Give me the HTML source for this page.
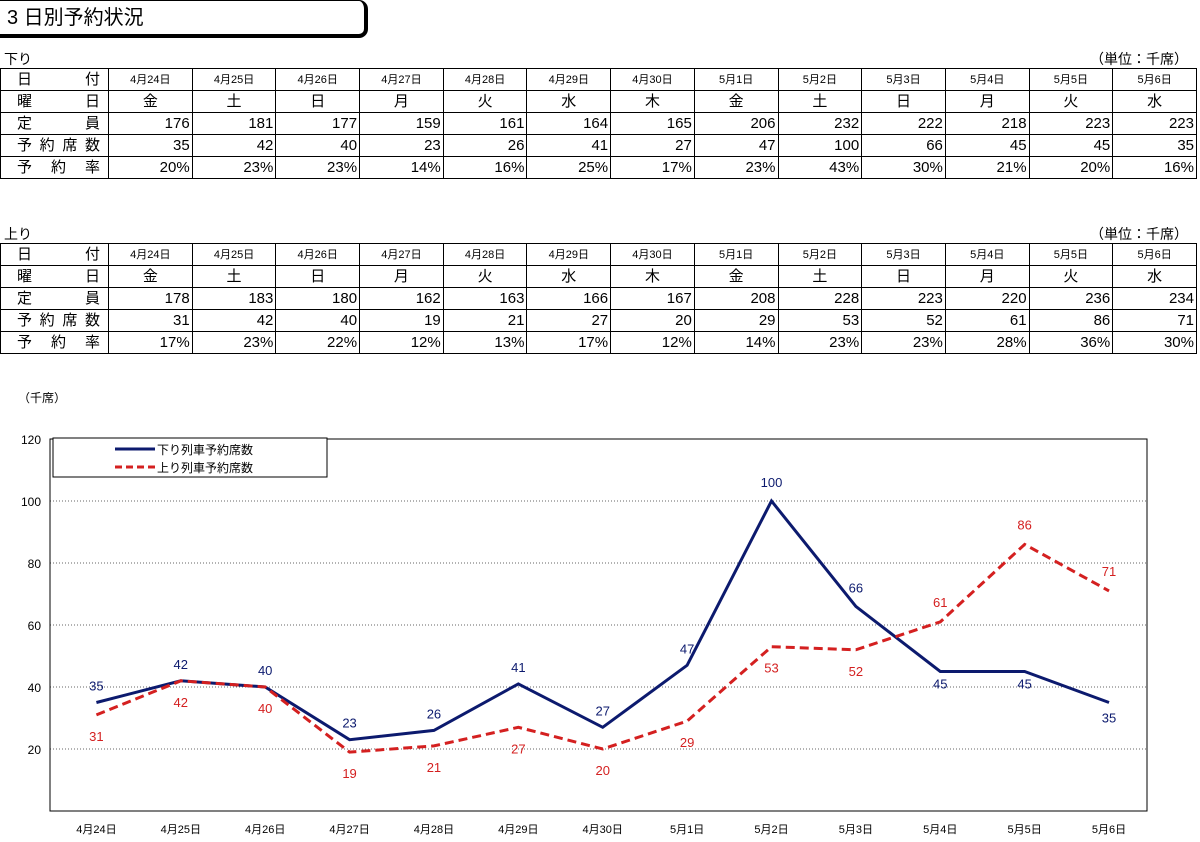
<!DOCTYPE html>
<html><head><meta charset="utf-8">
<style>
body{margin:0;width:1200px;height:842px;background:#fff;font-family:"Liberation Sans","Noto Sans CJK JP",sans-serif;position:relative;overflow:hidden;color:#000}
.title{position:absolute;left:-10px;top:0;width:378px;height:38px;border:1px solid #000;border-right:4px solid #000;border-bottom:4px solid #000;border-radius:0 9px 9px 0;box-sizing:border-box;font-size:20px;line-height:34px;padding-left:16px}
.cap{position:absolute;font-size:14px}
table{position:absolute;left:0;border-collapse:collapse;table-layout:fixed;width:1197px}
td{border:1px solid #000;height:22px;padding:0 2px;font-size:15px;line-height:20px;box-sizing:border-box}
td.l{width:108px;text-align:justify;text-align-last:justify;padding:0 8px 0 16px;font-size:15px!important}
tr.h td{font-size:11px;text-align:center}
tr.d td{text-align:center}
tr.n td{text-align:right}
svg{position:absolute;left:0;top:0}
</style></head><body>
<div class="title">3 日別予約状況</div>
<div class="cap" style="left:4px;top:49px">下り</div>
<div class="cap" style="right:12px;top:49px">（単位：千席）</div>
<table id="t1" style="top:68px"></table>
<div class="cap" style="left:4px;top:224px">上り</div>
<div class="cap" style="right:12px;top:224px">（単位：千席）</div>
<table id="t2" style="top:243px"></table>
<svg id="ch" width="1200" height="842"></svg>
<script>
const dates=["4月24日","4月25日","4月26日","4月27日","4月28日","4月29日","4月30日","5月1日","5月2日","5月3日","5月4日","5月5日","5月6日"];
const days=["金","土","日","月","火","水","木","金","土","日","月","火","水"];
const capDown=[176,181,177,159,161,164,165,206,232,222,218,223,223];
const resDown=[35,42,40,23,26,41,27,47,100,66,45,45,35];
const rateDown=["20%","23%","23%","14%","16%","25%","17%","23%","43%","30%","21%","20%","16%"];
const capUp=[178,183,180,162,163,166,167,208,228,223,220,236,234];
const resUp=[31,42,40,19,21,27,20,29,53,52,61,86,71];
const rateUp=["17%","23%","22%","12%","13%","17%","12%","14%","23%","23%","28%","36%","30%"];
const yTicks=[20,40,60,80,100,120];
function buildTable(id,cap,res,rate){
  const t=document.getElementById(id);
  const rows=[["日 付",dates,"h"],["曜 日",days,"d"],["定 員",cap,"n"],["予約席数",res,"n"],["予 約 率",rate,"n"]];
  rows.forEach(r=>{
    const tr=document.createElement('tr');tr.className=r[2];
    const l=document.createElement('td');l.className='l';l.textContent=r[0];
    
    
    tr.appendChild(l);
    r[1].forEach(v=>{const c=document.createElement('td');c.textContent=v;
      
      
      tr.appendChild(c);});
    t.appendChild(tr);
  });
}
buildTable('t1',capDown,resDown,rateDown);
buildTable('t2',capUp,resUp,rateUp);
const NS="http://www.w3.org/2000/svg",svg=document.getElementById('ch');
function el(tag,a,txt){const e=document.createElementNS(NS,tag);for(const k in a)e.setAttribute(k,a[k]);if(txt!==undefined)e.textContent=txt;svg.appendChild(e);return e;}
const X0=50,X1=1147,Y0=811,Y1=439;
const bw=(X1-X0)/dates.length;
const x=i=>X0+bw*(i+0.55);
const y=v=>Y0-(v/120)*(Y0-Y1);
let t=el('text',{x:18,y:402,'font-size':12},'（千席）');


yTicks.forEach(v=>{
  if(v<120){let g=el('line',{x1:X0,x2:X1,y1:y(v),y2:y(v),stroke:'#666','stroke-dasharray':'1,2','stroke-width':1});
  
  }
  let l=el('text',{x:41,y:y(v)+5,'font-size':12,'text-anchor':'end'},v);
  
  
});
let fr=el('rect',{x:X0,y:Y1,width:X1-X0,height:Y0-Y1,fill:'none',stroke:'#000','stroke-width':1});


dates.forEach((d,i)=>{let l=el('text',{x:x(i),y:833,'font-size':11,'text-anchor':'middle'},d);
  
  });
function series(vals,color,dash,offs,name){
  let p=el('polyline',{points:vals.map((v,i)=>x(i)+','+y(v)).join(' '),fill:'none',stroke:color,'stroke-width':3,'stroke-dasharray':dash});
  
  
  vals.forEach((v,i)=>{let l=el('text',{x:x(i),y:y(v)+offs[i],'font-size':13,'text-anchor':'middle',fill:color},v);
    
    });
}
const downOff=[-12,-12,-12,-12,-12,-12,-12,-12,-14,-14,17,17,20];
const upOff=[26,26,26,26,26,26,26,26,26,26,-15,-15,-15];
series(resDown,'#0c1a6e','none',downOff,'down');
series(resUp,'#d42020','9,5',upOff,'up');
let lg=el('rect',{x:53,y:438,width:274,height:39,fill:'#fff',stroke:'#000'});


el('line',{x1:115,x2:155,y1:449,y2:449,stroke:'#0c1a6e','stroke-width':3});
el('line',{x1:115,x2:155,y1:467,y2:467,stroke:'#d42020','stroke-width':3,'stroke-dasharray':'7,4'});
let l1=el('text',{x:157,y:454,'font-size':12},'下り列車予約席数');


let l2=el('text',{x:157,y:472,'font-size':12},'上り列車予約席数');


</script>
</body></html>
